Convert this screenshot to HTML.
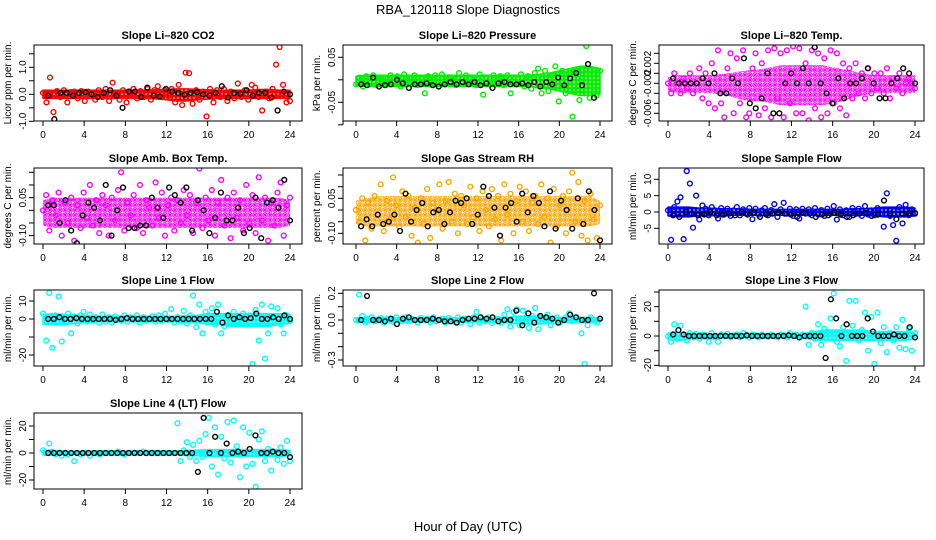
<!DOCTYPE html>
<html><head><meta charset="utf-8">
<style>
html,body{margin:0;padding:0;background:#fff;}
svg{display:block;font-family:"Liberation Sans",sans-serif;}
</style></head>
<body>
<svg id="chart" width="936" height="540" viewBox="0 0 936 540" xmlns="http://www.w3.org/2000/svg">
<defs id="defs"></defs>
<text x="468" y="14" text-anchor="middle" font-size="13">RBA_120118  Slope Diagnostics</text>
<text x="468" y="531" text-anchor="middle" font-size="13">Hour of Day (UTC)</text>
<g id="panels"></g>
</svg>
<script>
const xTicks = [0,4,8,12,16,20,24];
const bandHours = [0,1,2,3,4,5,6,7,8,9,10,11,12,13,14,15,16,17,18,19,20,21,22,23,24];

const co2Color = [0.05,-0.3,0.62,-0.66,0.12,-0.1,0.15,-0.3,0.08,0.1,-0.15,0.12,-0.25,0.1,0.05,-0.2,0.15,-0.1,0.2,-0.25,0.43,0.05,-0.2,0.15,-0.3,0.1,0.2,-0.15,0.12,-0.1,0.2,-0.2,0.15,0.3,-0.1,0.15,-0.05,0.2,-0.3,0.35,-0.4,0.8,0.78,-0.35,0.15,-0.2,0.1,-0.82,0.2,-0.3,0.15,-0.1,0.2,-0.25,0.1,-0.15,0.4,-0.1,0.15,-0.2,0.35,0.25,-0.1,-0.6,0.1,-0.15,0.2,1.1,1.75,0.35,-0.3,-0.25];
const co2Black = [-0.05,-0.92,0.05,0.05,-0.05,0.05,0.08,0.0,-0.1,0.05,0.15,-0.05,-0.5,0.1,0.1,-0.1,0.25,-0.05,-0.08,0.2,0.1,0.05,-0.02,0.05,0.08,0.0,-0.05,0.05,0.3,-0.12,0.05,0.02,0.15,-0.05,0.05,0.05,-0.12,-0.6,0.1,0.0];
const co2BandHi = [0.15,0.15,0.15,0.15,0.15,0.15,0.15,0.15,0.15,0.15,0.15,0.17,0.18,0.2,0.2,0.18,0.17,0.15,0.15,0.15,0.15,0.18,0.18,0.15,0.15];
const co2BandLo = [-0.15,-0.15,-0.15,-0.15,-0.15,-0.15,-0.15,-0.15,-0.15,-0.15,-0.15,-0.17,-0.2,-0.25,-0.25,-0.2,-0.18,-0.15,-0.15,-0.15,-0.15,-0.15,-0.15,-0.15,-0.15];

const presColor = [-0.01,0.005,-0.015,0.008,-0.005,0.01,-0.012,0.005,0.0,-0.01,0.01,-0.005,0.008,-0.015,0.012,0.0,-0.008,0.01,-0.012,0.005,-0.03,0.008,-0.01,0.01,-0.005,0.012,-0.01,0.005,0.0,-0.012,0.015,-0.008,0.01,-0.005,0.0,-0.012,0.012,-0.033,0.005,-0.01,0.01,-0.005,0.008,-0.012,0.01,-0.03,0.005,-0.01,0.012,-0.015,0.008,-0.02,0.015,0.025,-0.03,0.02,-0.025,0.01,0.03,-0.048,0.02,-0.03,0.015,-0.082,0.02,-0.045,0.02,0.075,-0.04,0.015,-0.035,0.02];
const presBlack = [-0.01,-0.012,0.005,-0.015,-0.012,-0.01,0.0,-0.008,-0.018,-0.01,-0.01,-0.008,-0.012,-0.015,-0.01,-0.005,-0.01,-0.005,-0.01,-0.005,-0.012,-0.008,-0.018,-0.008,-0.005,-0.01,-0.01,-0.008,-0.012,-0.005,-0.015,-0.005,-0.01,0.005,-0.012,0.003,0.015,-0.012,0.035,-0.04,-0.1];
const presBandHi = [0.008,0.01,0.01,0.01,0.01,0.01,0.01,0.01,0.01,0.01,0.01,0.01,0.01,0.01,0.01,0.01,0.01,0.01,0.012,0.015,0.02,0.025,0.03,0.03,0.025];
const presBandLo = [-0.012,-0.015,-0.015,-0.015,-0.015,-0.015,-0.015,-0.015,-0.015,-0.015,-0.015,-0.015,-0.015,-0.015,-0.015,-0.015,-0.015,-0.015,-0.018,-0.02,-0.025,-0.03,-0.035,-0.035,-0.03];

const tempColor = [0.0,-0.001,0.001,0.0,-0.001,0.0005,-0.0005,0.001,-0.001,0.0,0.0015,-0.0015,0.001,-0.002,0.002,-0.0025,0.0033,-0.002,-0.0034,0.0015,0.003,-0.003,0.0025,-0.002,0.0033,-0.0034,-0.003,0.0015,0.003,-0.0032,0.002,-0.0025,0.0033,-0.0034,0.0035,-0.0015,0.003,-0.0034,0.0033,-0.002,0.0037,-0.003,0.0035,-0.003,0.002,-0.0037,0.0033,-0.0025,0.003,-0.0034,0.0025,-0.003,0.0033,-0.002,0.003,-0.0025,0.002,-0.0032,0.0015,-0.0015,0.002,-0.001,0.001,-0.0015,0.0015,-0.001,0.001,-0.0005,0.001,-0.001,0.0015,-0.0015,0.0005,-0.0005,0.001,-0.001,0.0,0.0005,0.0,-0.0005];
const tempBlack = [0.0005,0.0,0.0,0.0,0.0,0.0005,0.0,0.001,-0.001,-0.001,0.0005,0.0,0.0025,-0.002,-0.0025,-0.0015,0.001,-0.003,-0.003,0.0,0.001,0.0,0.0015,0.0,0.0036,0.0,-0.001,-0.002,0.0005,-0.0015,0.0,0.0,0.0005,0.0015,0.0,-0.0015,-0.0015,0.0,0.0005,0.0015,0.001,0.0];
const tempBandHi = [0.0006,0.0008,0.0008,0.0008,0.0008,0.0009,0.001,0.0012,0.0013,0.0014,0.0016,0.0018,0.0018,0.0018,0.0018,0.0018,0.0016,0.0014,0.0012,0.001,0.0008,0.0008,0.0008,0.0008,0.0008];
const tempBandLo = [-0.0008,-0.001,-0.001,-0.001,-0.001,-0.0011,-0.0013,-0.0016,-0.0018,-0.0018,-0.002,-0.0022,-0.0022,-0.0022,-0.0022,-0.0022,-0.002,-0.0018,-0.0014,-0.0012,-0.001,-0.001,-0.001,-0.001,-0.001];

const ambColor = [0.0,0.06,-0.08,0.04,-0.02,0.07,-0.1,0.03,-0.05,0.05,-0.12,0.02,-0.07,0.07,-0.03,0.1,-0.06,0.04,-0.09,0.06,0.02,-0.1,0.05,-0.04,0.08,0.15,-0.08,0.03,-0.02,0.06,-0.07,0.1,-0.09,0.04,0.01,-0.06,0.11,-0.03,0.07,-0.1,0.02,0.05,-0.08,0.04,-0.05,0.08,-0.02,0.06,-0.09,0.03,0.165,-0.07,0.05,-0.04,0.08,-0.1,0.03,0.12,-0.06,0.05,-0.11,0.07,-0.03,0.04,-0.08,0.1,-0.05,0.06,-0.09,0.13,-0.04,0.05,-0.12,0.03,-0.06,0.07,0.11,-0.1,0.02,0.05];
const ambBlack = [0.02,0.02,-0.05,0.04,-0.08,-0.13,-0.02,0.03,0.01,-0.04,0.1,-0.1,0.0,0.09,-0.07,-0.07,-0.06,-0.06,0.05,0.01,-0.03,0.09,0.06,0.03,0.09,-0.08,0.04,0.0,-0.09,-0.03,0.07,-0.04,-0.04,0.01,-0.09,-0.07,0.05,-0.11,0.03,0.04,0.01,0.12,-0.04];
const ambBandHi = [0.04,0.05,0.05,0.05,0.05,0.05,0.05,0.05,0.05,0.05,0.05,0.05,0.05,0.05,0.05,0.05,0.05,0.05,0.05,0.05,0.05,0.05,0.05,0.05,0.04];
const ambBandLo = [-0.06,-0.07,-0.07,-0.07,-0.07,-0.07,-0.07,-0.07,-0.07,-0.07,-0.07,-0.07,-0.07,-0.07,-0.07,-0.07,-0.07,-0.07,-0.07,-0.07,-0.07,-0.07,-0.07,-0.07,-0.06];

const rhColor = [0.0,-0.05,0.05,-0.13,0.03,-0.08,0.06,-0.02,0.11,-0.09,0.04,-0.04,0.14,0.02,-0.07,0.08,-0.03,0.06,-0.11,0.01,-0.14,0.05,-0.06,0.09,-0.12,0.03,0.0,0.11,-0.08,0.04,0.12,-0.05,0.07,-0.1,0.06,0.02,-0.06,0.1,-0.03,0.05,-0.09,0.08,0.0,-0.07,0.09,-0.04,0.06,-0.13,0.11,-0.02,0.07,-0.1,0.04,0.1,-0.05,0.08,-0.09,0.03,0.06,-0.06,0.11,-0.03,0.05,-0.14,0.09,-0.07,0.02,0.06,-0.1,0.08,0.16,-0.05,0.12,-0.11,0.04,-0.13,0.07,-0.04,-0.12,0.02];
const rhBlack = [-0.07,-0.04,-0.07,-0.02,-0.06,-0.05,-0.02,-0.09,0.07,-0.05,0.0,0.03,-0.07,-0.01,0.0,-0.06,-0.01,0.04,0.03,0.05,-0.06,-0.02,0.1,0.06,0.01,-0.11,0.01,0.03,-0.05,0.07,-0.01,0.06,0.03,-0.07,0.08,-0.08,0.04,0.0,-0.08,0.05,-0.06,0.08,0.0,-0.13];
const rhBandHi = [0.04,0.05,0.06,0.06,0.06,0.06,0.06,0.06,0.06,0.06,0.06,0.06,0.06,0.06,0.06,0.06,0.06,0.06,0.06,0.06,0.06,0.06,0.06,0.06,0.04];
const rhBandLo = [-0.06,-0.07,-0.07,-0.07,-0.07,-0.07,-0.07,-0.07,-0.07,-0.07,-0.07,-0.07,-0.07,-0.07,-0.07,-0.07,-0.07,-0.07,-0.07,-0.07,-0.07,-0.07,-0.07,-0.07,-0.06];

const sampleColor = [0.5,-8.5,1.5,3.2,4.5,-8.3,12.5,8.7,-4.8,5.0,-2.3,2.0,1.0,-1.0,1.5,0.5,-2.0,1.2,-0.8,1.0,-1.2,0.5,1.5,-1.0,0.8,-0.5,1.2,-2.2,1.0,-0.8,0.5,1.2,-1.0,0.6,2.4,-1.5,0.8,2.8,-0.5,1.0,-1.2,0.8,-2.0,1.0,-0.5,0.8,-1.0,1.2,-0.8,0.6,-1.2,1.0,-0.5,1.8,-2.3,0.8,-1.0,0.5,-1.5,1.2,-0.6,1.0,-1.2,1.8,-0.8,0.5,-1.0,1.2,-0.6,-4.5,5.7,-1.2,-4.0,-8.8,1.5,-3.5,2.2,-1.0,0.8,-0.5];
const sampleBlack = [-1,-1.5,0,-0.5,-1,-0.8,0,-1,-0.8,-0.5,-1,0,-0.8,-0.2,-1.5,-0.8,-0.5,-0.3,-0.5,-0.8,-1.5,-0.2,-0.5,-1.5,-0.8,-1,-0.2,-0.8,-1.5,-1,-0.5,-0.3,-1.2,-0.8,3.5,-0.5,-2.2,-0.5,-0.5,-0.3];
const sampleBandHi = [1.5,1.5,1.5,1.2,1.2,1.0,1.0,1.0,0.8,0.8,0.8,0.8,0.8,0.8,0.8,0.8,0.8,0.8,1.0,1.0,1.2,1.5,1.5,1.5,1.2];
const sampleBandLo = [-1.2,-1.5,-1.5,-1.2,-1.2,-1.0,-1.0,-1.0,-1.0,-1.0,-1.0,-1.0,-1.0,-1.0,-1.0,-1.0,-1.0,-1.0,-1.0,-1.0,-1.2,-1.5,-1.5,-1.5,-1.2];

const line1Color = [3,-12,14.5,-16,2,12.5,-12.5,-2,3,-8,1.5,-2.5,2,4,-1.5,2.5,-1,1,-2,2.5,-1.5,1,-2,1.5,0.5,-1,2,-1.5,1,-0.5,2,-2,1,-1,0.5,1.5,-1.5,2,-1,3,-0.5,5.5,-2,1,-1.5,4.5,-2.5,2,13,-4.5,8,-8,4,2,6,-3,8,-8,-4,2,-2,4,-1,1,3,-3,2,-25,5,-12,8,-22,-8,7,-2,6,-3,-8,2,-1];
const line1Black = [0,0,1,0,0,0.5,0,0,0,0,0,0,-0.5,0,0.5,0,0,0,0,0,0,0,0,0,0,0,0,0,0,0,4,-2,2,0,1,0,0.5,3,0,0,1,0,2,0];
const line1BandHi = [2.5,3,2.5,2,2,1.5,1.5,1.5,1.5,1.5,1.5,1.5,1.5,1.5,2,2,3,3,3,3,3,3,3,3,2.5];
const line1BandLo = [-3,-3,-3,-2.5,-2,-1.5,-1.5,-1.5,-1.5,-1.5,-1.5,-1.5,-1.5,-1.5,-2,-2,-3,-3,-4,-4,-4,-4,-4,-3,-2.5];

const line2Color = [0,0.19,0.03,-0.02,0.01,0.02,-0.01,0.0,0.015,-0.02,0.01,0.0,-0.015,0.02,0.0,-0.01,0.02,-0.01,0.01,0.0,-0.02,0.015,0.0,0.01,-0.015,0.02,-0.01,0.0,0.01,-0.02,0.015,0.0,-0.01,0.02,-0.02,0.01,0.0,-0.03,0.02,0.06,-0.02,0.01,-0.01,0.02,-0.025,0.0,0.01,-0.02,0.04,0.08,-0.05,0.06,0.08,-0.04,0.07,0.02,-0.06,0.03,0.09,-0.07,0.02,0.0,0.04,-0.04,0.01,0.02,-0.02,0.0,0.02,0.05,-0.01,0.02,0.0,-0.1,-0.33,-0.04,0.02,0.0,-0.02,0.01];
const line2Black = [0.0,0.18,0.0,0.0,-0.01,0.01,-0.03,0.01,0.02,0.0,0.0,0.0,0.01,0.0,-0.01,-0.01,-0.02,0.0,0.01,0.01,0.02,0.01,0.02,-0.01,0.0,0.0,0.07,-0.04,0.05,-0.02,0.03,0.02,0.01,-0.02,0.0,0.04,0.02,0.0,0.0,0.2,0.01];
const line2BandHi = [0.015,0.02,0.02,0.015,0.015,0.015,0.015,0.015,0.015,0.015,0.015,0.015,0.015,0.015,0.015,0.02,0.03,0.03,0.03,0.025,0.02,0.02,0.02,0.02,0.015];
const line2BandLo = [-0.015,-0.02,-0.02,-0.015,-0.015,-0.015,-0.015,-0.015,-0.015,-0.015,-0.015,-0.015,-0.015,-0.02,-0.02,-0.02,-0.03,-0.03,-0.03,-0.025,-0.02,-0.02,-0.02,-0.02,-0.015];

const line3Color = [0,-4,8,-2,7,1,-3,2,-1,1.5,-2,1,0.5,-4,2,-1,-4,1,0,1.5,-1,0.5,1,-1,2,0,-1,1,0.5,-1,1,0,-0.5,1,0,-1,1,0.5,-1,2,0,1,-0.5,1,20,-6,2,-2,8,-6,5,3,12,29,-4,-7,6,-17,24,7,24,-3,4,16,-10,13,-19,16,-5,6,-11,2,-3,6,-8,11,-9,5,-10,2];
const line3Black = [1,4,1,0,0,0,0,0,0,0,0,0,0,0,0.5,0,0,0,0,0,0,0,0.5,0,-1,0,0,0,0,-15,25,12,0,8,0,0,0,12,3,0,0,0,1,0,0,6,-1];
const line3BandHi = [2,2.5,2,1.5,1.5,1.2,1.2,1.2,1.2,1.2,1.2,1.2,1.2,1.5,2.5,4,4,4,4,4,3,3,3,3,2];
const line3BandLo = [-2.5,-3,-2.5,-2,-2,-1.2,-1.2,-1.2,-1.2,-1.2,-1.2,-1.2,-1.2,-1.5,-2.5,-3,-3,-3,-3,-3,-3,-3,-3,-3,-2];

const line4Color = [2,0,7,1,-1,0,-2,0,-1,0,-6,0,-1,0,0,-2,0,0,-1,0,0,0,0,0,1,0,-1,0,0,0,0,0,1,0,0,0,0,0,0,0,0,0,0,22,-6,2,8,-3,6,-6,9,-3,14,26,-10,19,-16,12,-4,23,-7,24,5,-18,19,-10,15,-8,-25,10,16,-6,3,-13,0,-5,4,-8,9,-6];
const line4Black = [0,0,0,0,0,0,0,0,0,0,0,0,0,0,0,0,0,0,0,0,0,0,0,0,0,0,-14,26,0,12,0,7,0,1,0,3,13,0,0,1,0,0,-3];
const line4BandHi = [2,2,1.5,1,1,1,1,1,1,1,1,1,1,1.5,2,2,2.5,2.5,2.5,2.5,2.5,2.5,2.5,2.5,2];
const line4BandLo = [-1.5,-1.5,-1.2,-1,-1,-1,-1,-1,-1,-1,-1,-1,-1,-1.5,-2,-2,-2.5,-2.5,-2.5,-2.5,-2.5,-2.5,-2.5,-2.5,-2];

const co2Ticks=[-1,-0.5,0,0.5,1,1.5], co2Labels=["-1.0","","0.0","","1.0",""];
const presTicks=[-0.1,-0.05,0,0.05], presLabels=["","-0.05","","0.05"];
const tempTicks=[-0.003,-0.002,-0.001,0,0.001,0.002,0.003], tempLabels=["-0.006","","","-0.002","","0.002",""];
const ambTicks=[-0.1,-0.05,0,0.05,0.1,0.15], ambLabels=["-0.10","","","0.05","",""];
const rhTicks=[-0.1,-0.05,0,0.05,0.1,0.15], rhLabels=["-0.10","","","0.05","",""];
const sampleTicks=[-5,0,5,10], sampleLabels=["-5","0","5","10"];
const line1Ticks=[-20,-10,0,10], line1Labels=["-20","","0","10"];
const line2Ticks=[-0.3,-0.2,-0.1,0,0.1,0.2], line2Labels=["-0.3","","","0.0","","0.2"];
const line3Ticks=[-20,-10,0,10,20,30], line3Labels=["-20","","0","","20",""];
const line4Ticks=[-20,-10,0,10,20], line4Labels=["-20","","0","","20"];

const cols=[{l:34,r:302,x0:43,x24:290},{l:343,r:612,x0:356,x24:600},{l:659,r:924,x0:668,x24:915}];
const rows=[{t:45,b:121},{t:168,b:244},{t:290,b:366},{t:413,b:489}];

const panels=[
 {name:"co2",title:"Slope Li\u2013820 CO2",ylab:"Licor ppm per min.",c:0,r:0,color:"#ff0000",dense:true,zero:94.3,ppu:27,col:co2Color,blk:co2Black,hi:co2BandHi,lo:co2BandLo,ticks:co2Ticks,labels:co2Labels},
 {name:"pressure",title:"Slope Li\u2013820 Pressure",ylab:"kPa per min.",c:1,r:0,color:"#00ee00",dense:true,zero:79.8,ppu:450,col:presColor,blk:presBlack,hi:presBandHi,lo:presBandLo,ticks:presTicks,labels:presLabels},
 {name:"temp",title:"Slope Li\u2013820 Temp.",ylab:"degrees C per min.",c:2,r:0,color:"#ff00ff",dense:false,zero:83.3,ppu:10000,col:tempColor,blk:tempBlack,hi:tempBandHi,lo:tempBandLo,ticks:tempTicks,labels:tempLabels},
 {name:"amb-box-temp",title:"Slope Amb. Box Temp.",ylab:"degrees C per min.",c:0,r:1,color:"#ff00ff",dense:false,zero:210.3,ppu:253.3,col:ambColor,blk:ambBlack,hi:ambBandHi,lo:ambBandLo,ticks:ambTicks,labels:ambLabels},
 {name:"gas-stream-rh",title:"Slope Gas Stream RH",ylab:"percent per min.",c:1,r:1,color:"#ffa500",dense:false,zero:210,ppu:233.3,col:rhColor,blk:rhBlack,hi:rhBandHi,lo:rhBandLo,ticks:rhTicks,labels:rhLabels},
 {name:"sample-flow",title:"Slope Sample Flow",ylab:"ml/min per min.",c:2,r:1,color:"#0000ff",dense:true,zero:212,ppu:3.27,col:sampleColor,blk:sampleBlack,hi:sampleBandHi,lo:sampleBandLo,ticks:sampleTicks,labels:sampleLabels},
 {name:"line1-flow",title:"Slope Line 1 Flow",ylab:"ml/min per min.",c:0,r:2,color:"#00ffff",dense:true,zero:319,ppu:1.8,col:line1Color,blk:line1Black,hi:line1BandHi,lo:line1BandLo,ticks:line1Ticks,labels:line1Labels},
 {name:"line2-flow",title:"Slope Line 2 Flow",ylab:"ml/min per min.",c:1,r:2,color:"#00ffff",dense:true,zero:320,ppu:133.3,col:line2Color,blk:line2Black,hi:line2BandHi,lo:line2BandLo,ticks:line2Ticks,labels:line2Labels},
 {name:"line3-flow",title:"Slope Line 3 Flow",ylab:"ml/min per min.",c:2,r:2,color:"#00ffff",dense:true,zero:336,ppu:1.467,col:line3Color,blk:line3Black,hi:line3BandHi,lo:line3BandLo,ticks:line3Ticks,labels:line3Labels},
 {name:"line4-flow",title:"Slope Line 4 (LT) Flow",ylab:"ml/min per min.",c:0,r:3,color:"#00ffff",dense:true,zero:453,ppu:1.35,col:line4Color,blk:line4Black,hi:line4BandHi,lo:line4BandLo,ticks:line4Ticks,labels:line4Labels}
];

const NS="http://www.w3.org/2000/svg";
const root=document.getElementById("panels");
const defs=document.getElementById("defs");
function mk(tag,attrs,parent){const e=document.createElementNS(NS,tag);for(const k in attrs)e.setAttribute(k,attrs[k]);parent.appendChild(e);return e;}

panels.forEach(p=>{
  const C=cols[p.c],R=rows[p.r];
  const xs=h=>C.x0+(C.x24-C.x0)*h/24;
  const ys=v=>p.zero-v*p.ppu;
  const g=mk("g",{},root);
  
  
  const clipId="clip-"+p.name;
  const cp=mk("clipPath",{id:clipId},defs);
  mk("rect",{x:C.l,y:R.t,width:C.r-C.l,height:R.b-R.t},cp);
  const patId="pat-"+p.name;
  const tile=p.dense?4:5;
  const pat=mk("pattern",{id:patId,width:tile,height:tile,patternUnits:"userSpaceOnUse"},defs);
  mk("rect",{x:0,y:0,width:tile,height:tile,fill:"#fff"},pat);
  mk("circle",{cx:tile/2,cy:tile/2,r:p.dense?1.6:1.7,fill:"none",stroke:p.color,"stroke-width":p.dense?"1.6":"1.2"},pat);
  mk("circle",{cx:0,cy:0,r:1.2,fill:p.color},pat);
  mk("circle",{cx:tile,cy:tile,r:1.2,fill:p.color},pat);
  mk("circle",{cx:0,cy:tile,r:1.2,fill:p.color},pat);
  mk("circle",{cx:tile,cy:0,r:1.2,fill:p.color},pat);
  const t=mk("text",{x:(C.l+C.r)/2,y:R.t-6,"text-anchor":"middle","font-size":"11","font-weight":"bold"},g);
  t.textContent=p.title;
  
  
  const yl=mk("text",{x:0,y:0,"text-anchor":"middle","font-size":"10",transform:`translate(${C.l-23},${(R.t+R.b)/2}) rotate(-90)`},g);
  yl.textContent=p.ylab;
  
  
  const xa=mk("g",{},g);
  
  
  mk("line",{x1:xs(xTicks[0]),x2:xs(xTicks[xTicks.length-1]),y1:R.b,y2:R.b,stroke:"#000"},xa);
  xTicks.forEach(h=>{
    mk("line",{x1:xs(h),x2:xs(h),y1:R.b,y2:R.b+5,stroke:"#000"},xa);
    const tl=mk("text",{x:xs(h),y:R.b+17,"text-anchor":"middle","font-size":"10"},xa);
    tl.textContent=String(h);
  });
  const ya=mk("g",{},g);
  
  
  mk("line",{x1:C.l,x2:C.l,y1:ys(p.ticks[0]),y2:ys(p.ticks[p.ticks.length-1]),stroke:"#000"},ya);
  p.ticks.forEach((v,i)=>{
    const y=ys(v);
    mk("line",{x1:C.l-5,x2:C.l,y1:y,y2:y,stroke:"#000"},ya);
    if(p.labels[i]){
      const tl=mk("text",{x:0,y:0,"text-anchor":"middle","font-size":"10",transform:`translate(${C.l-8},${y}) rotate(-90)`},ya);
      tl.textContent=p.labels[i];
    }
  });
  let pts=[];
  bandHours.forEach((h,i)=>pts.push(xs(h)+","+ys(p.hi[i])));
  for(let i=bandHours.length-1;i>=0;i--)pts.push(xs(bandHours[i])+","+ys(p.lo[i]));
  const band=mk("polygon",{points:pts.join(" "),fill:`url(#${patId})`,stroke:p.dense?p.color:"none","stroke-width":"1.5","stroke-linejoin":"round","clip-path":`url(#${clipId})`},g);
  
  
  const sg=mk("g",{"clip-path":`url(#${clipId})`},g);
  
  
  const n=p.col.length;
  p.col.forEach((v,i)=>{
    const h=i*24/(n-1);
    const c=mk("circle",{cx:xs(h),cy:ys(v),r:2.4,fill:"none",stroke:p.color,"stroke-width":"1.4"},sg);
    
    
  });
  const bg=mk("g",{"clip-path":`url(#${clipId})`},g);
  
  
  const m=p.blk.length;
  p.blk.forEach((v,i)=>{
    const h=0.5+i*23.5/(m-1);
    const c=mk("circle",{cx:xs(h),cy:ys(v),r:2.4,fill:"none",stroke:"#000","stroke-width":"1.4"},bg);
    
    
  });
  const fr=mk("rect",{x:C.l,y:R.t,width:C.r-C.l,height:R.b-R.t,fill:"none",stroke:"#000","stroke-width":"1"},g);
  
  
});
</script>
</body></html>
